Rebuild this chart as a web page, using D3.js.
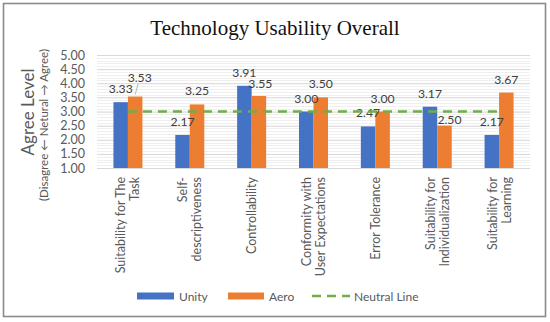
<!DOCTYPE html>
<html>
<head>
<meta charset="utf-8">
<script src="https://cdn.jsdelivr.net/npm/d3@7"></script>
<style>
  body { margin: 0; background: #fff; }
  svg { display: block; font-family: Lato, "Open Sans", sans-serif; }
</style>
</head>
<body>
<div id="chart"></div>
<script>
// chart data
const categories = [
  ["Suitability for The", "Task"],
  ["Self-", "descriptiveness"],
  ["Controllability"],
  ["Conformity with", "User Expectations"],
  ["Error Tolerance"],
  ["Suitability for", "Individualization"],
  ["Suitability for", "Learning"]
];
const unity = [3.33, 2.17, 3.91, 3.00, 2.47, 3.17, 2.17];
const aero = [3.53, 3.25, 3.55, 3.50, 3.00, 2.50, 3.67];
const neutral = [3, 3, 3, 3, 3, 3, 3];
const yTicks = [1, 1.5, 2, 2.5, 3, 3.5, 4, 4.5, 5];
const seriesNames = ["Unity", "Aero"];
const colors = {Unity: "#4472C4", Aero: "#ED7D31"};

const width = 550, height = 322;
const svg = d3.select("#chart").append("svg")
    .attr("width", width)
    .attr("height", height);

// outer frame
svg.append("rect")
    .attr("x", 3.5).attr("y", 3.5)
    .attr("width", 542).attr("height", 313)
    .attr("fill", "none")
    .attr("stroke", "#8a8a8a")
    .attr("stroke-width", 1.6);

svg.append("text")
    .attr("x", 275).attr("y", 35)
    .attr("text-anchor", "middle")
    .attr("font-family", "'Liberation Serif', 'Times New Roman', serif")
    .attr("font-size", "21px")
    .attr("fill", "#111")
    .text("Technology Usability Overall");

const x0 = d3.scaleBand()
    .domain(d3.range(categories.length))
    .range([97, 530]);
const xs = d3.scaleBand()
    .domain(seriesNames)
    .range([x0.bandwidth() / 2 - 14.5, x0.bandwidth() / 2 + 14.5]);
const y = d3.scaleLinear()
    .domain([1, 5])
    .range([168, 55]);

// minor gridlines
svg.append("g")
    .selectAll("line")
    .data(d3.range(10, 51).map(d => d / 10))
    .enter().append("line")
        .attr("x1", 97).attr("x2", 530)
        .attr("y1", d => Math.round(y(d)) + 0.5)
        .attr("y2", d => Math.round(y(d)) + 0.5)
        .attr("stroke", "#efefef");

// major gridlines + tick labels
const yAxis = svg.append("g")
    .attr("transform", "translate(97,0)")
    .call(d3.axisLeft(y).tickValues(yTicks).tickSize(-433).tickFormat(d3.format(".2f")));
yAxis.select(".domain").remove();
yAxis.selectAll(".tick line").attr("stroke", "#d9d9d9");
yAxis.selectAll(".tick text")
    .attr("x", -12)
    .attr("font-family", "Lato, sans-serif")
    .attr("font-size", "12.5px")
    .attr("fill", "#595959");

// bars
const groups = svg.append("g").selectAll("g")
    .data(categories.map((c, i) => ({i, vals: {Unity: unity[i], Aero: aero[i]}})))
    .enter().append("g")
        .attr("transform", d => `translate(${x0(d.i)},0)`);

groups.selectAll("rect")
    .data(d => seriesNames.map(s => ({s, v: d.vals[s], i: d.i})))
    .enter().append("rect")
        .attr("x", d => xs(d.s))
        .attr("y", d => y(d.v))
        .attr("width", xs.bandwidth())
        .attr("height", d => y(1) - y(d.v))
        .attr("fill", d => colors[d.s]);

// neutral line
const line = d3.line()
    .x((d, i) => x0(i) + x0.bandwidth() / 2)
    .y(d => y(d));
svg.append("path")
    .datum(neutral)
    .attr("d", line)
    .attr("fill", "none")
    .attr("stroke", "#70AD47")
    .attr("stroke-width", 2.6)
    .attr("stroke-dasharray", "9,6");

// value labels (a couple nudged like the original)
const nudge = {"Aero-0": [4.5, -6], "Aero-5": [5, 7], "Aero-2": [1.5, 1]};
groups.selectAll("text.val")
    .data(d => seriesNames.map(s => ({s, v: d.vals[s], i: d.i})))
    .enter().append("text")
        .attr("class", "val")
        .attr("x", d => xs(d.s) + xs.bandwidth() / 2 + (nudge[d.s + "-" + d.i] || [0, 0])[0])
        .attr("y", d => y(d.v) - 9 + (nudge[d.s + "-" + d.i] || [0, 0])[1])
        .attr("text-anchor", "middle")
        .attr("font-size", "12.2px")
        .attr("fill", "#404040")
        .text(d => d3.format(".2f")(d.v));

// leader line for 3.53
svg.append("line")
    .attr("x1", x0(0) + xs("Aero") + xs.bandwidth() / 2 + 3)
    .attr("y1", y(aero[0]) - 13)
    .attr("x2", x0(0) + xs("Aero") + xs.bandwidth() / 2)
    .attr("y2", y(aero[0]) - 2)
    .attr("stroke", "#a6a6a6")
    .attr("stroke-width", 0.8);

// category labels, rotated
const cat = svg.append("g").selectAll("text")
    .data(categories)
    .enter().append("text")
        .attr("transform", (d, i) => `translate(${x0(i) + x0.bandwidth() / 2},177) rotate(-90)`)
        .attr("text-anchor", "end")
        .attr("font-size", "12.5px")
        .attr("fill", "#595959");
cat.selectAll("tspan")
    .data(d => d.map((t, k) => ({t, k, n: d.length})))
    .enter().append("tspan")
        .attr("x", 0)
        .attr("y", d => (d.k - (d.n - 1) / 2) * 14 + 4.5)
        .text(d => d.t);

// y axis titles
svg.append("text")
    .attr("transform", "translate(34,112) rotate(-90)")
    .attr("text-anchor", "middle")
    .attr("font-size", "17px")
    .attr("fill", "#595959")
    .text("Agree Level");
svg.append("text")
    .attr("transform", "translate(48,125) rotate(-90)")
    .attr("text-anchor", "middle")
    .attr("font-size", "11.5px")
    .attr("fill", "#595959")
    .text("(Disagree \u2190 Netural \u2192 Agree)");

// legend
const legend = svg.append("g").attr("transform", "translate(0,296)");
legend.append("rect").attr("x", 137).attr("y", -3.5).attr("width", 37).attr("height", 7).attr("fill", colors.Unity);
legend.append("text").attr("x", 179).attr("y", 4.5).attr("font-size", "12px").attr("fill", "#595959").text("Unity");
legend.append("rect").attr("x", 228).attr("y", -3.5).attr("width", 36).attr("height", 7).attr("fill", colors.Aero);
legend.append("text").attr("x", 269).attr("y", 4.5).attr("font-size", "12px").attr("fill", "#595959").text("Aero");
legend.append("line")
    .attr("x1", 312).attr("x2", 350).attr("y1", 0).attr("y2", 0)
    .attr("stroke", "#70AD47").attr("stroke-width", 2.6).attr("stroke-dasharray", "9,6");
legend.append("text").attr("x", 354).attr("y", 4.5).attr("font-size", "12px").attr("fill", "#595959").text("Neutral Line");
</script>
</body>
</html>
